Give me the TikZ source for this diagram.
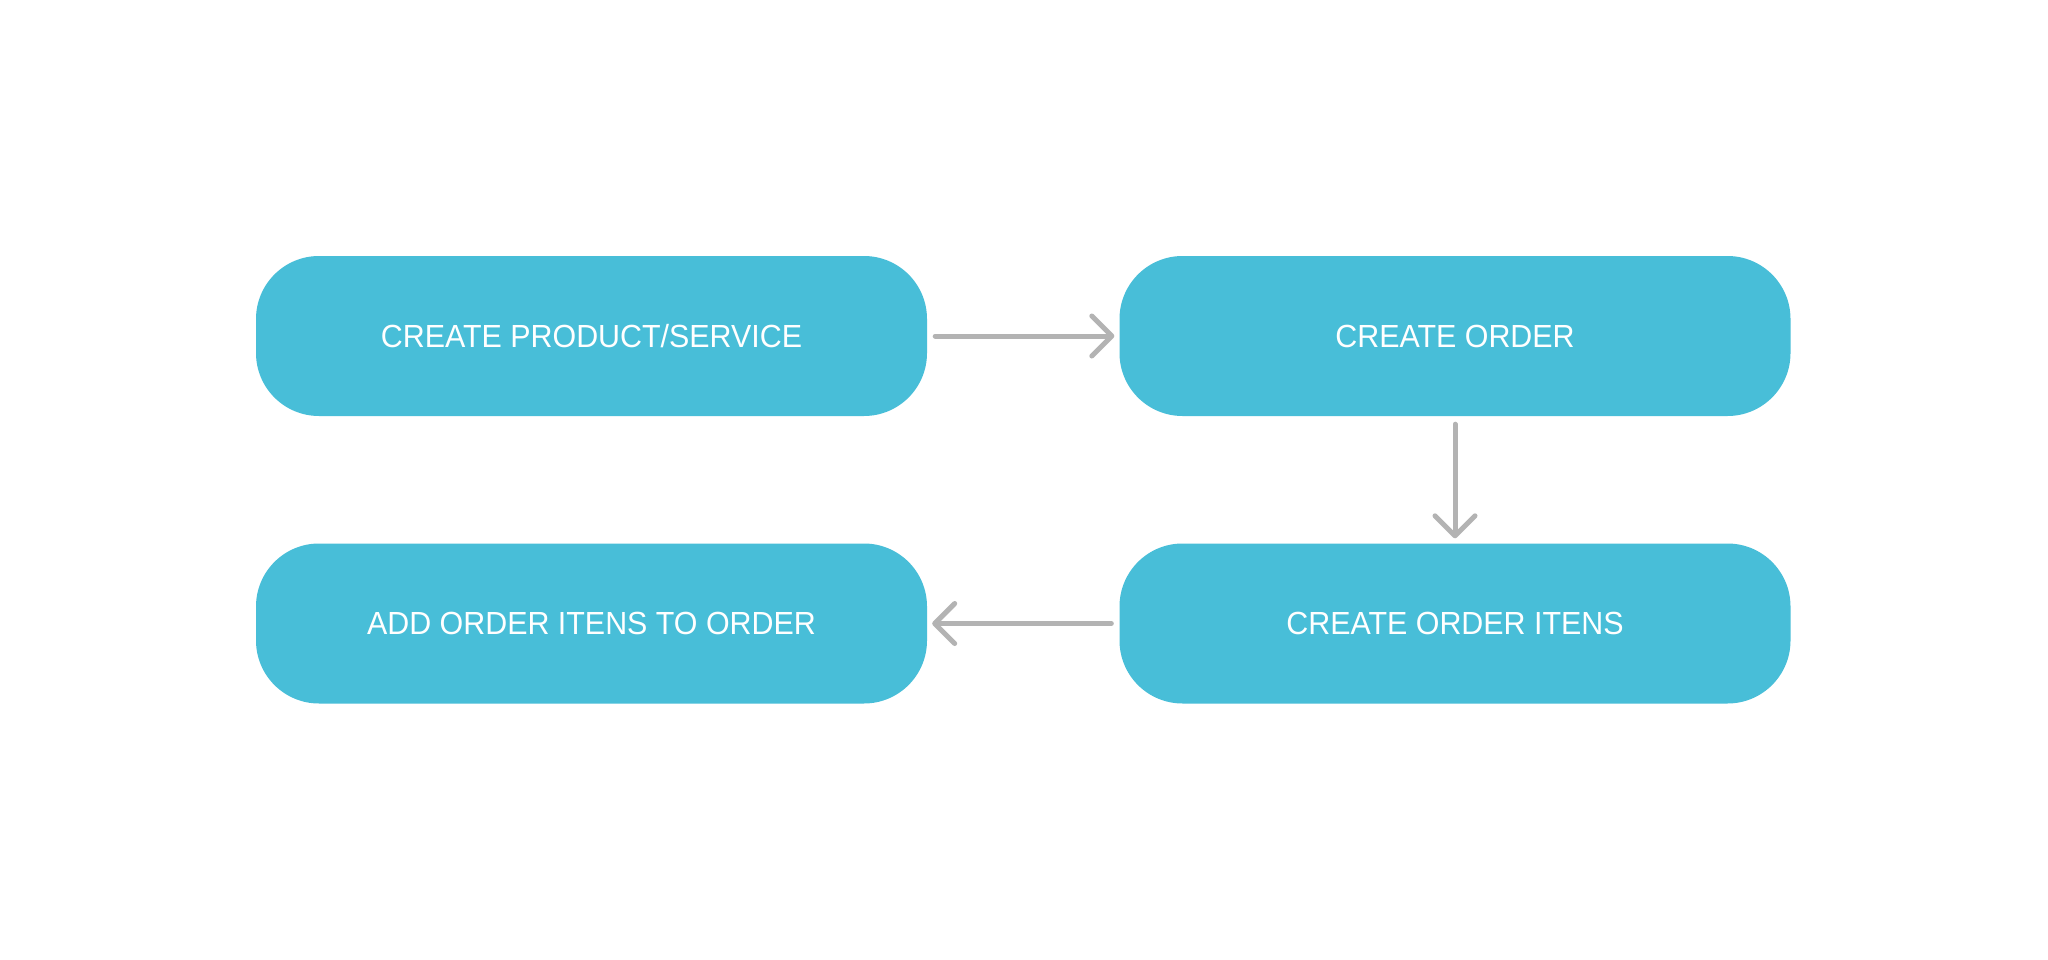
\documentclass[tikz,border=0pt]{standalone}
\usepackage{fontspec}
\setmainfont{Liberation Sans}[FakeStretch=0.95]
\usetikzlibrary{arrows.meta}
\definecolor{boxblue}{HTML}{48BED8}
\definecolor{arrowgray}{HTML}{B3B3B3}
\tikzset{
  stepbox/.style={fill=boxblue, draw=none, rounded corners=63pt,
    minimum width=671pt, minimum height=160pt, inner sep=0pt,
    text=white, font=\fontsize{32}{38}\selectfont, anchor=center},
  flowarrow/.style={draw=arrowgray, line width=5pt, line cap=round,
    -{Straight Barb[length=20pt,width=40pt,round]}}
}
\begin{document}
\begin{tikzpicture}[x=1pt,y=-1pt]
\useasboundingbox (0,0) rectangle (2048,960);
\fill[white] (0,0) rectangle (2048,960);
\node[stepbox] (b1) at (591.5,336) {\raisebox{-2.5pt}{CREATE PRODUCT/SERVICE}};
\node[stepbox] (b2) at (1455,336) {\raisebox{-2.5pt}{CREATE ORDER}};
\node[stepbox] (b4) at (1455,623.5) {\raisebox{-2.5pt}{CREATE ORDER ITENS}};
\node[stepbox] (b3) at (591.5,623.5) {\raisebox{-2.5pt}{ADD ORDER ITENS TO ORDER}};
\draw[flowarrow, shorten <=8pt, shorten >=5pt] (b1.east) -- (b2.west);
\draw[flowarrow, shorten <=8pt, shorten >=5pt] (b2.south) -- (b4.north);
\draw[flowarrow, shorten <=8pt, shorten >=5pt] (b4.west) -- (b3.east);
\end{tikzpicture}
\end{document}
